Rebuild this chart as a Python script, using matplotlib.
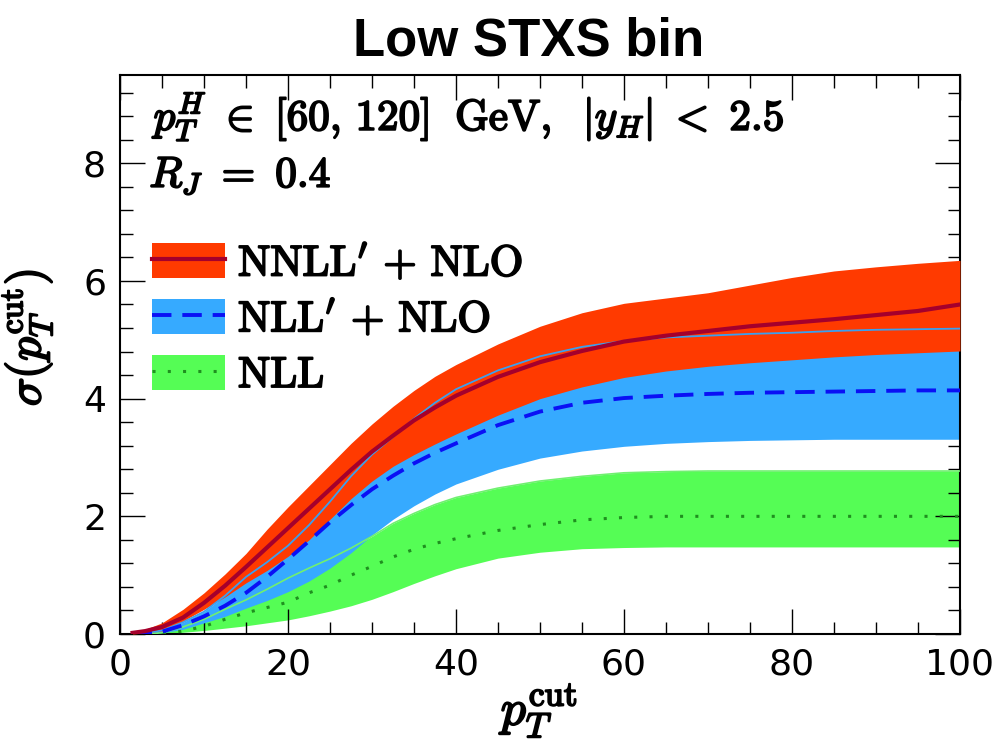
import numpy as np
import matplotlib
matplotlib.use("Agg")
import matplotlib.pyplot as plt
import matplotlib.patheffects as pe
from matplotlib.patches import Patch
from matplotlib.lines import Line2D
from matplotlib.ticker import MultipleLocator

plt.rcParams['mathtext.fontset'] = 'cm'
plt.rcParams['font.family'] = ['DejaVu Sans']

# p_T^cut grid and curves
pt = [1.5, 3, 5, 7.5, 10, 12.5, 15, 17.5, 20, 22.5, 25, 27.5, 30, 32.5, 35, 37.5,
      40, 45, 50, 55, 60, 65, 70, 75, 80, 85, 90, 95, 100]

nnll_c = [0.02, 0.05, 0.12, 0.28, 0.53, 0.82, 1.14, 1.47, 1.80, 2.13, 2.46, 2.79, 3.10, 3.37,
          3.63, 3.85, 4.05, 4.37, 4.62, 4.81, 4.97, 5.07, 5.15, 5.23, 5.29, 5.35, 5.42, 5.49, 5.60]
nnll_hi = [0.04, 0.08, 0.19, 0.42, 0.70, 1.02, 1.37, 1.78, 2.16, 2.52, 2.88, 3.24, 3.57, 3.87,
           4.14, 4.38, 4.58, 4.93, 5.23, 5.46, 5.62, 5.71, 5.80, 5.93, 6.06, 6.17, 6.24, 6.30, 6.35]
nnll_lo = [0.00, 0.02, 0.05, 0.22, 0.42, 0.63, 0.87, 1.08, 1.32, 1.60, 1.95, 2.30, 2.60, 2.85,
           3.05, 3.23, 3.40, 3.72, 4.00, 4.20, 4.36, 4.47, 4.55, 4.61, 4.66, 4.71, 4.75, 4.78, 4.81]

nll_p_c = [0.00, 0.01, 0.04, 0.15, 0.30, 0.48, 0.70, 0.97, 1.27, 1.58, 1.90, 2.19, 2.46, 2.69,
           2.90, 3.08, 3.24, 3.55, 3.78, 3.93, 4.01, 4.05, 4.08, 4.10, 4.11, 4.12, 4.13, 4.14, 4.14]
nll_p_hi = [0.00, 0.02, 0.06, 0.20, 0.38, 0.65, 0.97, 1.22, 1.50, 1.85, 2.25, 2.68, 3.05, 3.35,
            3.66, 3.93, 4.16, 4.48, 4.72, 4.88, 4.98, 5.04, 5.07, 5.10, 5.12, 5.15, 5.17, 5.18, 5.19]
nll_p_lo = [0.00, 0.00, 0.02, 0.08, 0.19, 0.30, 0.44, 0.57, 0.72, 0.90, 1.12, 1.38, 1.68, 1.95,
            2.18, 2.38, 2.55, 2.80, 2.99, 3.11, 3.19, 3.24, 3.27, 3.29, 3.30, 3.31, 3.31, 3.31, 3.31]

nll_c = [0.00, 0.00, 0.00, 0.05, 0.13, 0.25, 0.36, 0.45, 0.54, 0.70, 0.83, 1.00, 1.15, 1.31,
         1.44, 1.54, 1.62, 1.76, 1.86, 1.94, 1.98, 2.00, 2.00, 2.00, 2.00, 2.00, 2.00, 2.00, 2.00]
nll_hi = [0.00, 0.00, 0.02, 0.12, 0.25, 0.42, 0.58, 0.76, 0.95, 1.12, 1.28, 1.46, 1.66, 1.88,
          2.05, 2.20, 2.32, 2.48, 2.60, 2.68, 2.74, 2.76, 2.77, 2.77, 2.77, 2.77, 2.77, 2.77, 2.77]
nll_lo = [0.00, 0.00, 0.00, 0.03, 0.06, 0.10, 0.14, 0.19, 0.24, 0.31, 0.39, 0.48, 0.59, 0.72,
          0.86, 0.99, 1.11, 1.29, 1.39, 1.45, 1.47, 1.48, 1.48, 1.48, 1.48, 1.48, 1.48, 1.48, 1.48]

labels = [r"$\mathrm{NNLL}'\,+\,\mathrm{NLO}$", r"$\mathrm{NLL}'\,+\,\mathrm{NLO}$", r"$\mathrm{NLL}$"]

c_red, c_red_line = '#ff3a00', '#a5002c'
c_blue, c_blue_line, c_blue_edge = '#36aaff', '#0a10f5', '#3aa0f0'
c_green, c_green_line, c_green_edge = '#55fd55', '#1f8f1f', '#70f070'

# fake bold for computer modern text
bold = [pe.withStroke(linewidth=1.4, foreground='black')]

fig = plt.figure(figsize=(9.95, 7.53), dpi=100)
ax = fig.add_axes([0.1206, 0.158, 0.8442, 0.7424])

ax.fill_between(pt, nll_lo, nll_hi, color=c_green, lw=0, zorder=1)
ax.fill_between(pt, nll_p_lo, nll_p_hi, color=c_blue, lw=0, zorder=2)
ax.fill_between(pt, nnll_lo, nnll_hi, color=c_red, lw=0, zorder=3)
ax.plot(pt, nll_hi, color=c_green_edge, lw=1.2, zorder=4)
ax.plot(pt, nll_p_hi, color=c_blue_edge, lw=1.3, zorder=4)

ax.plot(pt, nll_c, color=c_green_line, lw=2.2, dashes=(1, 4), zorder=5)
ax.plot(pt, nll_p_c, color=c_blue_line, lw=2.8, dashes=(5, 2.8), zorder=5)
ax.plot(pt, nnll_c, color=c_red_line, lw=3.0, zorder=6)

ax.set_xlim(0, 100)
ax.set_ylim(0, 9.5)
ax.xaxis.set_major_locator(MultipleLocator(20))
ax.xaxis.set_minor_locator(MultipleLocator(5))
ax.yaxis.set_major_locator(MultipleLocator(2))
ax.yaxis.set_minor_locator(MultipleLocator(0.4))
ax.tick_params(which='both', direction='in', top=True, right=True, labelsize=26, width=1.0)
ax.tick_params(which='major', length=18, pad=10)
ax.tick_params(which='minor', length=9)
for s in ax.spines.values():
    s.set_linewidth(1.5)

ax.set_title('Low STXS bin', family='Liberation Sans', fontweight='bold', fontsize=38, pad=14, x=0.487)
ax.set_xlabel(r'$p_T^{\mathrm{cut}}$', fontsize=36, labelpad=0, path_effects=bold)
ax.set_ylabel(r'$\sigma(p_T^{\mathrm{cut}})$', fontsize=34, path_effects=bold)
ax.yaxis.set_label_coords(-0.077, 0.53)

ax.text(0.04, 0.925, r'$p_T^H\ \in\ [60,\, 120]\;\ \mathrm{GeV},\;\ |y_H|\ <\ 2.5$',
        transform=ax.transAxes, fontsize=31, va='center', ha='left', path_effects=bold)
ax.text(0.035, 0.82, r'$R_J\ =\ 0.4$',
        transform=ax.transAxes, fontsize=31, va='center', ha='left', path_effects=bold)

handles = [
    (Patch(facecolor=c_red, lw=0), Line2D([], [], color=c_red_line, lw=3.0)),
    (Patch(facecolor=c_blue, lw=0), Line2D([], [], color=c_blue_line, lw=2.8, dashes=(5, 2.8))),
    (Patch(facecolor=c_green, lw=0), Line2D([], [], color=c_green_line, lw=2.2, dashes=(1, 4))),
]
leg = ax.legend(handles, labels, loc='upper left', bbox_to_anchor=(0.038, 0.70), frameon=False,
                fontsize=31, handlelength=1.7, handleheight=0.88, labelspacing=0.32,
                handletextpad=0.3, borderaxespad=0, borderpad=0)
for t in leg.get_texts():
    t.set_path_effects(bold)

fig.savefig('out.png', dpi=100)
